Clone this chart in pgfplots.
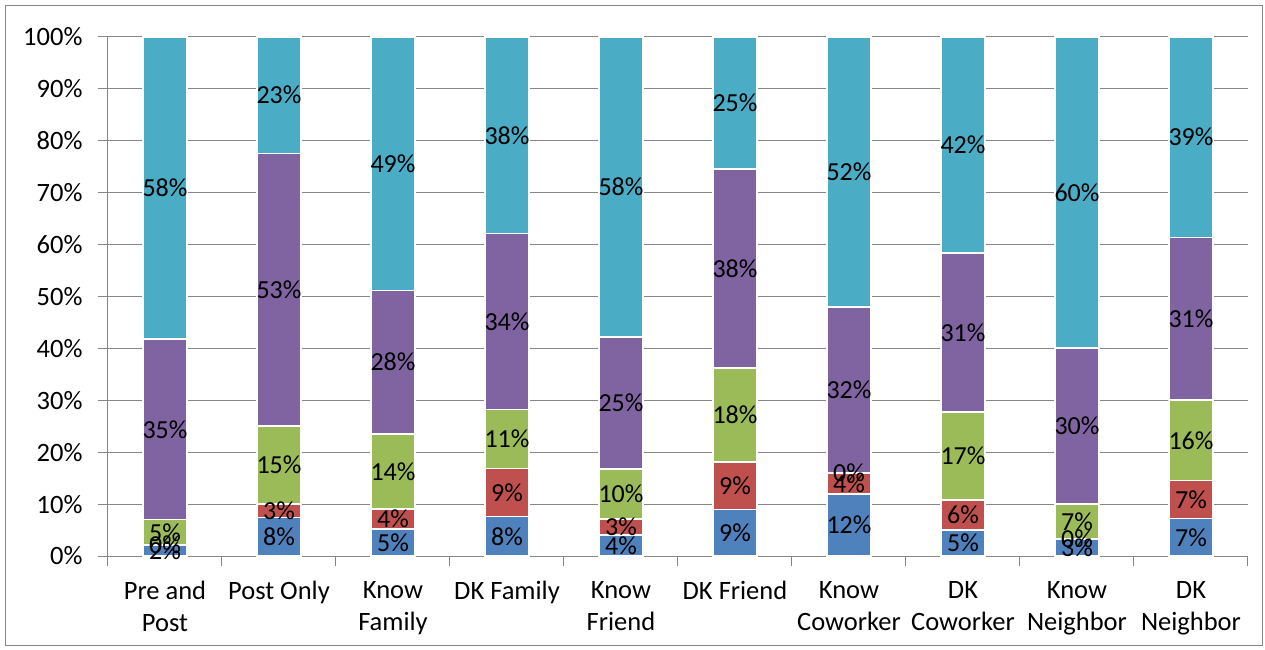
\documentclass[border=0pt]{standalone}
\usepackage{pgfplots}
\pgfplotsset{compat=1.18}
\usepackage{pgfplotstable}
\usepackage{fontspec}
\setmainfont{Carlito}
\definecolor{cblue}{HTML}{4F81BD}
\definecolor{cred}{HTML}{C0504D}
\definecolor{cgreen}{HTML}{9BBB59}
\definecolor{cpurple}{HTML}{8064A2}
\definecolor{cteal}{HTML}{4BACC6}
\definecolor{axgray}{HTML}{868686}
\pgfplotstableread{
x b r g p t
0 2.1 0 4.9 34.8 58.2
1 7.4 2.6 15.0 52.6 22.4
2 5.2 3.9 14.4 27.7 48.8
3 7.6 9.3 11.3 33.9 37.9
4 4.0 3.1 9.7 25.4 57.8
5 9.0 9.1 18.1 38.4 25.4
6 11.9 4.1 0 32.0 52.0
7 5.0 5.8 16.9 30.7 41.6
8 3.3 0 6.7 30.1 59.9
9 7.2 7.3 15.6 31.3 38.6
}\datatable
\pgfplotstableread{
x y lab
0 1.05 2
0 2.1 0
0 4.55 5
0 24.4 35
0 70.9 58
1 3.7 8
1 8.7 3
1 17.5 15
1 51.3 53
1 88.8 23
2 2.6 5
2 7.15 4
2 16.3 14
2 37.35 28
2 75.6 49
3 3.8 8
3 12.25 9
3 22.55 11
3 45.15 34
3 81.05 38
4 2.0 4
4 5.55 3
4 11.95 10
4 29.5 25
4 71.1 58
5 4.5 9
5 13.55 9
5 27.15 18
5 55.4 38
5 87.3 25
6 5.95 12
6 13.95 4
6 16.0 0
6 32.0 32
6 74.0 52
7 2.5 5
7 7.9 6
7 19.25 17
7 43.05 31
7 79.2 42
8 1.65 3
8 3.3 0
8 6.65 7
8 25.05 30
8 70.05 60
9 3.6 7
9 10.85 7
9 22.3 16
9 45.75 31
9 80.7 39
}\labeltable
\newcommand\lblfont{\fontsize{26.5bp}{32bp}\selectfont}
\newcommand\datfont{\fontsize{26bp}{30bp}\selectfont}
\begin{document}
\begin{tikzpicture}
\useasboundingbox (-108bp,-94bp) rectangle (1157bp,556bp);
\draw[axgray, line width=1bp] (-102bp,-89bp) rectangle (1154bp,550bp);
\begin{axis}[
  at={(0,0)}, anchor=south west,
  scale only axis, width=1140bp, height=519bp,
  ybar stacked, bar width=44bp,
  xmin=-0.5, xmax=9.5, ymin=0, ymax=100,
  axis x line*=bottom, axis y line*=left,
  axis line style={axgray, line width=1bp},
  xtick={-0.5,0.5,1.5,2.5,3.5,4.5,5.5,6.5,7.5,8.5,9.5},
  xticklabels={},
  extra x ticks={0,1,2,3,4,5,6,7,8,9},
  extra x tick labels={{Pre and\\Post},{Post Only},{Know\\Family},{DK Family},{Know\\Friend},{DK Friend},{Know\\Coworker},{DK\\Coworker},{Know\\Neighbor},{DK\\Neighbor}},
  extra x tick style={major tick length=0pt},
  xticklabel style={align=center, font=\lblfont, yshift=-22bp},
  ytick={0,10,...,100},
  yticklabel={\pgfmathprintnumber{\tick}\%},
  /pgf/number format/assume math mode=true,
  yticklabel style={font=\lblfont, xshift=-12bp},
  tick align=outside, major tick length=10bp,
  tick style={axgray, line width=1bp},
  ymajorgrids, grid style={axgray, line width=1bp},
]
\addplot[fill=cblue, draw=white, line width=1.5bp] table[x=x,y=b]{\datatable};
\addplot[fill=cred, draw=white, line width=1.5bp] table[x=x,y=r]{\datatable};
\addplot[fill=cgreen, draw=white, line width=1.5bp] table[x=x,y=g]{\datatable};
\addplot[fill=cpurple, draw=white, line width=1.5bp] table[x=x,y=p]{\datatable};
\addplot[fill=cteal, draw=white, line width=1.5bp] table[x=x,y=t]{\datatable};
\end{axis}
\begin{axis}[
  at={(0,0)}, anchor=south west,
  scale only axis, width=1140bp, height=519bp,
  xmin=-0.5, xmax=9.5, ymin=0, ymax=100,
  axis lines=none,
]
\addplot[only marks, mark=none, point meta=explicit symbolic,
  nodes near coords={\pgfplotspointmeta\%},
  nodes near coords align={center},
  every node near coord/.append style={font=\datfont, text=black, anchor=center, inner sep=0pt}]
  table[x=x,y=y,meta=lab]{\labeltable};
\end{axis}
\end{tikzpicture}
\end{document}
